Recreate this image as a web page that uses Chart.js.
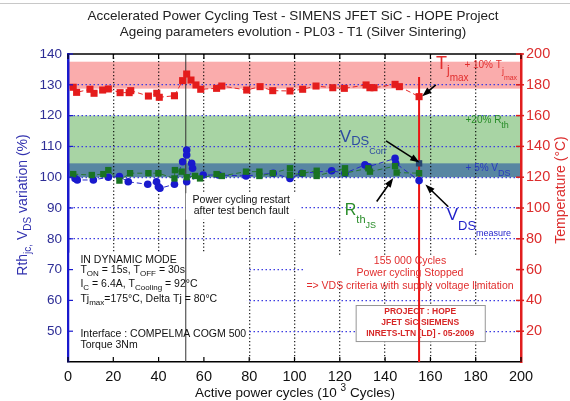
<!DOCTYPE html>
<html>
<head>
<meta charset="utf-8">
<script src="https://cdn.jsdelivr.net/npm/chart.js@4.4.0/dist/chart.umd.min.js"></script>
<style>
body { margin: 0; background: #fff; }
</style>
</head>
<body>
<canvas id="myChart" width="570" height="401"></canvas>
<script>
// Tj max (deg C, right axis)
var cyclesTj = [2.3, 3.8, 9.7, 11.5, 15.3, 17.8, 23, 27, 27.7, 35.5, 39.2, 40.3, 47, 50.6, 52.4, 54.3, 56.5, 58.6, 65.6, 67.9, 78.9, 84.8, 90.4, 98, 103.6, 109.5, 116.9, 122, 131.6, 133.3, 135.1, 144.4, 146.3, 155];
var tjmax = [178.4, 175.1, 177.1, 174.5, 176.6, 177.3, 174.9, 174.9, 176.2, 172.7, 174.5, 171.9, 172.9, 182.7, 187, 183.1, 179.9, 177.1, 177.7, 179.2, 176.6, 178.8, 176.2, 176, 177.1, 179.2, 178.1, 177.7, 179.9, 178.1, 178.1, 180.3, 178.8, 172.3];

// VDS variation (%, left axis)
var cyclesVds = [3.1, 4.1, 11.2, 17.8, 22.7, 26.6, 35.2, 39.1, 39.9, 40.6, 47, 50.6, 52.4, 52.4, 54.6, 55, 52.4, 59.7, 66.4, 78.6, 90.6, 98, 103.2, 116.4, 122.3, 131.1, 132.6, 144.4, 144.7, 155];
var vds = [99.6, 99.1, 99.1, 100, 100.2, 98.5, 97.7, 98.5, 96.9, 96.4, 97.7, 105, 108.8, 107.2, 104.5, 102.9, 98.5, 100.7, 100.7, 100.4, 101.3, 99.6, 101.3, 102.1, 101.3, 104, 103.4, 106.1, 104.5, 98.9];

// Rth variation (%, left axis)
var cyclesRth = [2.3, 10.5, 15.6, 17.8, 22.7, 27.4, 35.5, 39.9, 47, 47.2, 50.2, 52.4, 56.1, 58.3, 65.6, 67.9, 78.6, 84.5, 84.5, 90.4, 98, 98, 103.6, 109.8, 109.8, 122.3, 122.3, 132.6, 133.3, 144.4, 145.1, 155];
var rth = [101, 100.7, 101, 102.3, 98.9, 101.3, 101.3, 101.3, 99.6, 102.3, 101.8, 100, 100.4, 99.6, 101, 100.4, 101.8, 101.8, 100.4, 101.3, 102.9, 100.7, 101.3, 102.1, 100.4, 102.9, 101.3, 102.9, 101.8, 103.6, 101.5, 101.3];

// VDS corrected at stop
var cyclesVdsCorr = [155];
var vdsCorr = [104.5];

var xTicks = [0, 20, 40, 60, 80, 100, 120, 140, 160, 180, 200];
var leftTicks = [50, 60, 70, 80, 90, 100, 110, 120, 130, 140];
var rightTicks = [20, 40, 60, 80, 100, 120, 140, 160, 180, 200];

var restartCycle = 52;
var stopCycle = 155;
var bandTj = [177.5, 195];
var bandRth = [100, 120];
var bandVds = [100, 104.5];

var RED = 'rgb(228,28,28)';
var BLUE = 'rgb(25,25,205)';
var GREEN = 'rgb(25,115,35)';
var FONT = 'Arial, "Liberation Sans", sans-serif';

function pts(xs, ys) {
  var a = [];
  for (var i = 0; i < xs.length; i++) a.push({x: xs[i], y: ys[i]});
  return a;
}

// draw text made of pieces [text, size, dy] side by side
function rich(ctx, x, y, parts, align, color, bold) {
  var w = 0;
  parts.forEach(function(p) {
    ctx.font = (bold ? 'bold ' : '') + p[1] + 'px ' + FONT;
    w += ctx.measureText(p[0]).width;
  });
  var cx = x;
  if (align === 'center') cx = x - w / 2;
  if (align === 'right') cx = x - w;
  ctx.fillStyle = color;
  ctx.textAlign = 'left';
  ctx.textBaseline = 'alphabetic';
  parts.forEach(function(p) {
    ctx.font = (bold ? 'bold ' : '') + p[1] + 'px ' + FONT;
    ctx.fillText(p[0], cx, y + (p[2] || 0));
    cx += ctx.measureText(p[0]).width;
  });
}

function arrow(ctx, x1, y1, x2, y2) {
  var a = Math.atan2(y2 - y1, x2 - x1);
  ctx.save();
  ctx.strokeStyle = '#000';
  ctx.fillStyle = '#000';
  ctx.lineWidth = 1.6;
  ctx.setLineDash([]);
  ctx.beginPath();
  ctx.moveTo(x1, y1);
  ctx.lineTo(x2 - 6 * Math.cos(a), y2 - 6 * Math.sin(a));
  ctx.stroke();
  ctx.beginPath();
  ctx.moveTo(x2, y2);
  ctx.lineTo(x2 - 10 * Math.cos(a - 0.35), y2 - 10 * Math.sin(a - 0.35));
  ctx.lineTo(x2 - 10 * Math.cos(a + 0.35), y2 - 10 * Math.sin(a + 0.35));
  ctx.closePath();
  ctx.fill();
  ctx.restore();
}

var extras = {
  id: 'extras',
  beforeDraw: function(chart) {
    var ctx = chart.ctx, area = chart.chartArea;
    var sx = chart.scales.x, sy = chart.scales.y, sy2 = chart.scales.y2;
    ctx.save();
    ctx.fillStyle = '#fff';
    ctx.fillRect(0, 0, chart.width, chart.height);
    ctx.fillStyle = 'rgb(200,200,200)';
    ctx.fillRect(0, 3, chart.width, 1);
    // bands
    ctx.fillStyle = 'rgb(250,172,172)';
    ctx.fillRect(area.left, sy2.getPixelForValue(bandTj[1]), area.width, sy2.getPixelForValue(bandTj[0]) - sy2.getPixelForValue(bandTj[1]));
    ctx.fillStyle = 'rgb(168,212,164)';
    ctx.fillRect(area.left, sy.getPixelForValue(bandRth[1]), area.width, sy.getPixelForValue(bandRth[0]) - sy.getPixelForValue(bandRth[1]));
    ctx.fillStyle = 'rgb(88,134,162)';
    ctx.fillRect(area.left, sy.getPixelForValue(bandVds[1]), area.width, sy.getPixelForValue(bandVds[0]) - sy.getPixelForValue(bandVds[1]));
    // title
    ctx.fillStyle = '#222';
    ctx.font = '13.5px ' + FONT;
    ctx.textAlign = 'center';
    ctx.textBaseline = 'middle';
    ctx.fillText('Accelerated Power Cycling Test - SIMENS JFET SiC - HOPE Project', 293, 16);
    ctx.fillText('Ageing parameters evolution - PL03 - T1 (Silver Sintering)', 293, 32);
    ctx.restore();
  },
  beforeDatasetsDraw: function(chart) {
    var ctx = chart.ctx, area = chart.chartArea;
    var sx = chart.scales.x, sy = chart.scales.y, sy2 = chart.scales.y2;
    ctx.save();
    ctx.setLineDash([]);
    // white background under the left note
    ctx.fillStyle = '#fff';
    ctx.fillRect(area.left + 1.5, sy.getPixelForValue(75.5), sx.getPixelForValue(79) - area.left - 1.5, area.bottom - sy.getPixelForValue(75.5) - 1);
    // restart line
    ctx.strokeStyle = '#333';
    ctx.lineWidth = 1;
    ctx.beginPath();
    ctx.moveTo(sx.getPixelForValue(restartCycle), area.top);
    ctx.lineTo(sx.getPixelForValue(restartCycle), area.bottom);
    ctx.stroke();
    ctx.fillStyle = '#fff';
    ctx.fillRect(sx.getPixelForValue(52), sy.getPixelForValue(94.8), sx.getPixelForValue(102) - sx.getPixelForValue(52), sy.getPixelForValue(86.2) - sy.getPixelForValue(94.8));
    ctx.fillRect(sx.getPixelForValue(104), sy.getPixelForValue(74.5), sx.getPixelForValue(198.5) - sx.getPixelForValue(104), sy.getPixelForValue(66) - sy.getPixelForValue(74.5));
    // project box
    var bx = sx.getPixelForValue(127), by = sy.getPixelForValue(58.5);
    var bw = sx.getPixelForValue(184) - bx, bh = sy.getPixelForValue(46.8) - by;
    ctx.fillRect(bx, by, bw, bh);
    ctx.strokeStyle = 'rgb(150,150,150)';
    ctx.lineWidth = 1;
    ctx.strokeRect(bx + 0.5, by + 0.5, bw, bh);
    // stop line
    ctx.strokeStyle = 'rgb(235,20,20)';
    ctx.lineWidth = 2;
    ctx.beginPath();
    ctx.moveTo(sx.getPixelForValue(stopCycle), sy2.getPixelForValue(185));
    ctx.lineTo(sx.getPixelForValue(stopCycle), area.bottom);
    ctx.stroke();
    ctx.restore();
  },
  afterDatasetsDraw: function(chart) {
    var ctx = chart.ctx, area = chart.chartArea;
    var sx = chart.scales.x, sy = chart.scales.y, sy2 = chart.scales.y2;
    function X(v) { return sx.getPixelForValue(v); }
    function Y(v) { return sy.getPixelForValue(v); }
    ctx.save();
    ctx.setLineDash([]);
    // frame and inward ticks
    ctx.strokeStyle = '#000';
    ctx.lineWidth = 1.5;
    ctx.beginPath();
    ctx.moveTo(area.left, area.top);
    ctx.lineTo(area.right, area.top);
    ctx.stroke();
    ctx.lineWidth = 1.2;
    xTicks.forEach(function(t) {
      ctx.beginPath();
      ctx.moveTo(X(t), area.top);
      ctx.lineTo(X(t), area.top + 5);
      ctx.moveTo(X(t), area.bottom);
      ctx.lineTo(X(t), area.bottom - 5);
      ctx.stroke();
    });
    ctx.strokeStyle = BLUE;
    leftTicks.forEach(function(t) {
      ctx.beginPath();
      ctx.moveTo(area.left, Y(t));
      ctx.lineTo(area.left + 5, Y(t));
      ctx.stroke();
    });
    ctx.strokeStyle = 'rgb(220,30,30)';
    ctx.lineWidth = 1.5;
    rightTicks.forEach(function(t) {
      var p = sy2.getPixelForValue(t);
      ctx.beginPath();
      ctx.moveTo(area.right - 5, p);
      ctx.lineTo(area.right + 3, p);
      ctx.stroke();
    });

    // arrows
    arrow(ctx, X(140.4), Y(111.8), X(155.2), Y(104.8));
    arrow(ctx, X(136.3), Y(92.1), X(143.6), Y(99.7));
    arrow(ctx, X(167.9), Y(90.4), X(157.8), Y(97.6));
    arrow(ctx, X(162.4), Y(130.0), X(156.4), Y(126.3));

    var red = 'rgb(225,45,45)';
    // Tj max label
    rich(ctx, X(162.5), Y(135.1), [['T', 18, 0], ['j', 12, 5], ['max', 10, 12]], 'left', red);
    rich(ctx, X(175), Y(135.5), [['+ 10% T', 10, 0], ['j', 9, 6], ['max', 7, 12]], 'left', red);
    rich(ctx, X(175.5), Y(117.6), [['+20% R', 10, 0], ['th', 9, 5]], 'left', 'rgb(40,140,40)');
    rich(ctx, X(175.5), Y(102), [['+ 5% V', 10, 0], ['DS', 9, 5]], 'left', 'rgb(40,60,190)');
    // VDS corr
    rich(ctx, X(120), Y(111.4), [['V', 17, 0], ['DS', 13, 3], ['Corr', 9, 12]], 'left', 'rgb(45,75,160)');
    // Rth js
    rich(ctx, X(122.2), Y(87.7), [['R', 16, 0], ['th', 11, 8], ['JS', 9, 13]], 'left', 'rgb(40,140,40)');
    // VDS measure
    rich(ctx, X(167.2), Y(86.1), [['V', 17, 0], ['DS', 13, 10], ['measure', 9, 16]], 'left', 'rgb(30,30,200)');

    // restart note
    ctx.fillStyle = '#111';
    ctx.font = '10.5px ' + FONT;
    ctx.textAlign = 'center';
    ctx.textBaseline = 'middle';
    ctx.fillText('Power cycling restart', X(76.5), Y(92.6));
    ctx.fillText('after test bench fault', X(76.5), Y(89));

    // stop note
    ctx.fillStyle = red;
    ctx.fillText('155 000 Cycles', X(151), Y(72.9));
    ctx.fillText('Power cycling Stopped', X(151), Y(69));
    ctx.fillText('=> VDS criteria with supply voltage limitation', X(151), Y(64.8));

    // project box text
    ctx.font = 'bold 8.5px ' + FONT;
    ctx.fillStyle = 'rgb(215,40,40)';
    ctx.fillText('PROJECT : HOPE', X(155.5), Y(56.3));
    ctx.fillText('JFET SiC SIEMENS', X(155.5), Y(52.8));
    ctx.fillText('INRETS-LTN [LD] - 05-2009', X(155.5), Y(49.3));

    // left note
    var lx = X(5.5), col = '#111';
    rich(ctx, lx, Y(72.3), [['IN DYNAMIC MODE', 10.5, 0]], 'left', col);
    rich(ctx, lx, Y(69), [['T', 10.5, 0], ['ON', 8, 3], [' = 15s, T', 10.5, 0], ['OFF', 8, 3], [' = 30s', 10.5, 0]], 'left', col);
    rich(ctx, lx, Y(64.2), [['I', 10.5, 0], ['C', 8, 3], [' = 6.4A, T', 10.5, 0], ['Cooling', 8, 3], [' = 92°C', 10.5, 0]], 'left', col);
    rich(ctx, lx, Y(59.6), [['Tj', 10.5, 0], ['max', 8, 3], ['=175°C, Delta Tj = 80°C', 10.5, 0]], 'left', col);
    rich(ctx, lx, Y(48.1), [['Interface : COMPELMA COGM 500', 10.5, 0]], 'left', col);
    rich(ctx, lx, Y(44.5), [['Torque 3Nm', 10.5, 0]], 'left', col);

    // axis titles
    ctx.save();
    ctx.translate(27, 205);
    ctx.rotate(-Math.PI / 2);
    rich(ctx, 0, 0, [['Rth', 14, 0], ['jc,', 10, 4], [' V', 14, 0], ['DS', 10, 4], [' variation (%)', 14, 0]], 'center', 'rgb(50,50,175)');
    ctx.restore();
    ctx.save();
    ctx.translate(565, 190);
    ctx.rotate(-Math.PI / 2);
    rich(ctx, 0, 0, [['Temperature (°C)', 14, 0]], 'center', 'rgb(220,45,45)');
    ctx.restore();
    rich(ctx, 295, 397, [['Active power cycles (10 ', 13.5, 0], ['3', 10, -6], [' Cycles)', 13.5, 0]], 'center', '#111');
    ctx.restore();
  }
};

var ctx = document.getElementById('myChart').getContext('2d');
var chart = new Chart(ctx, {
  type: 'scatter',
  data: {
    datasets: [{
      label: 'Tj max',
      data: pts(cyclesTj, tjmax),
      yAxisID: 'y2',
      showLine: true,
      borderColor: 'rgb(230,40,40)',
      borderWidth: 1,
      borderDash: [5, 3],
      backgroundColor: RED,
      pointBackgroundColor: RED,
      pointBorderWidth: 0,
      pointStyle: 'rect',
      pointRadius: 5
    }, {
      label: 'Rth',
      data: pts(cyclesRth, rth),
      yAxisID: 'y',
      showLine: true,
      borderColor: 'rgb(40,120,50)',
      borderWidth: 1,
      borderDash: [5, 3],
      pointBackgroundColor: GREEN,
      pointBorderWidth: 0,
      pointStyle: 'rect',
      pointRadius: 4.5
    }, {
      label: 'VDS',
      data: pts(cyclesVds, vds),
      yAxisID: 'y',
      showLine: true,
      borderColor: 'rgb(40,40,200)',
      borderWidth: 1,
      borderDash: [5, 3],
      pointBackgroundColor: BLUE,
      pointBorderWidth: 0,
      pointRadius: 3.8
    }, {
      label: 'VDS corr',
      data: pts(cyclesVdsCorr, vdsCorr),
      yAxisID: 'y',
      pointBackgroundColor: 'rgb(40,70,110)',
      pointBorderWidth: 0,
      pointStyle: 'rect',
      pointRadius: 4.5
    }]
  },
  options: {
    responsive: false,
    animation: false,
    events: [],
    layout: { padding: { top: 54, left: 0, right: 0, bottom: 0 } },
    plugins: {
      legend: { display: false },
      tooltip: { enabled: false }
    },
    scales: {
      x: {
        type: 'linear',
        min: 0,
        max: 200,
        afterFit: function(s) { s.height = 39; },
        afterBuildTicks: function(s) { s.ticks = xTicks.map(function(v) { return {value: v}; }); },
        border: { color: '#000', width: 1.5, dash: [1.3, 2.2] },
        grid: {
          drawTicks: false,
          color: function(c) { return (c.tick && (c.tick.value === 0 || c.tick.value === 200)) ? 'rgba(0,0,0,0)' : 'rgba(0,0,0,0.85)'; },
          lineWidth: 1.3
        },
        ticks: { color: '#111', padding: 6, font: { size: 14.5, family: FONT } }
      },
      y: {
        type: 'linear',
        position: 'left',
        min: 40,
        max: 140,
        afterFit: function(s) { s.width = 68; },
        afterBuildTicks: function(s) { s.ticks = leftTicks.map(function(v) { return {value: v}; }); },
        border: { color: BLUE, width: 2.5, dash: [1.5, 2.5] },
        grid: {
          drawTicks: false,
          color: function(c) { return (c.tick && c.tick.value === 140) ? 'rgba(0,0,0,0)' : 'rgb(60,60,225)'; },
          lineWidth: 1.3
        },
        ticks: { color: 'rgb(45,45,150)', padding: 6, font: { size: 13.5, family: FONT } }
      },
      y2: {
        type: 'linear',
        position: 'right',
        min: 0,
        max: 200,
        afterFit: function(s) { s.width = 49; },
        afterBuildTicks: function(s) { s.ticks = rightTicks.map(function(v) { return {value: v}; }); },
        border: { color: 'rgb(225,30,30)', width: 2.5 },
        grid: { display: false, drawTicks: false },
        ticks: { color: 'rgb(220,45,45)', padding: 5, font: { size: 14.5, family: FONT } }
      }
    }
  },
  plugins: [extras]
});
</script>
</body>
</html>
